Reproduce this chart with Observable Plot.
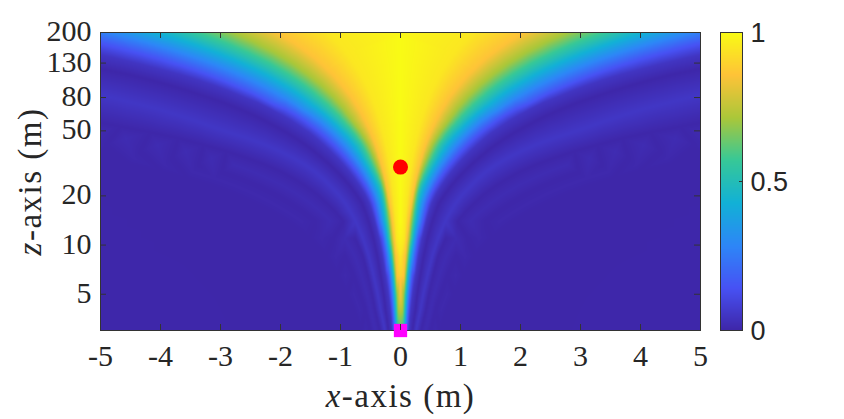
<!DOCTYPE html>
<html>
<head>
<meta charset="utf-8">
<script src="https://cdn.jsdelivr.net/npm/d3@7"></script>
<script src="https://cdn.jsdelivr.net/npm/@observablehq/plot@0.6"></script>
<style>
html,body{margin:0;padding:0;background:#fff;}
#wrap{position:relative;width:844px;height:419px;overflow:hidden;}
#wrap svg{position:absolute;top:0;}
</style>
</head>
<body>
<div id="wrap"></div>
<script>
// Parula-like colour map
const colorStops = [0, 1/7, 2/7, 3/7, 4/7, 5/7, 6/7, 1];
const colorValues = ["#3e26a8", "#4752f4", "#2d87f7", "#12b1d6", "#37c897", "#abc739", "#fec338", "#f9fb15"];

// Rows of the beam pattern: distance z (m)
const zRows = [3,4,5,6.5,8.5,11,14,16,18,20.5,23,25.5,28,31,34,37.5,41,45,49,53,58,63,68,74,80,87,94,102,110,119,128,139,150,162,174,187,200];
// Value on the axis x = 0 at each row
const centre = [.6,.75,.85,.9,.95,.98,1,1,1,1,1,1,1,1,1,1,1,1,1,1,1,1,1,1,1,1,1,1,1,1,1,1,1,1,1,1,.99];
const _ = null;
// |x| (m) where each level/ridge/null sits at each row
const c95 = [_,_,_,_,_,.066,.084,.096,.108,.123,.138,.153,.168,.186,.204,.225,.246,.27,.294,.318,.348,.378,.408,.444,.48,.522,.564,.612,.66,.714,.77,.834,.9,.972,1.04,1.12,1.2];
const c85 = [_,_,_,.06,.08,.11,.14,.162,.185,.21,.237,.262,.288,.319,.35,.385,.42,.462,.505,.546,.6,.649,.7,.762,.82,.896,.97,1.05,1.13,1.23,1.32,1.43,1.55,1.67,1.79,1.93,2.06];
const c70 = [_,.04,.055,.085,.115,.15,.18,.202,.225,.25,.28,.315,.35,.395,.44,.49,.54,.605,.67,.74,.82,.895,.96,1.05,1.13,1.235,1.33,1.45,1.56,1.69,1.81,1.97,2.12,2.3,2.46,2.655,2.83];
const c50 = [.06,.075,.09,.115,.15,.2,.24,.26,.28,.31,.35,.405,.46,.52,.58,.64,.7,.785,.87,.96,1.06,1.16,1.26,1.376,1.49,1.62,1.75,1.9,2.05,2.21,2.38,2.585,2.79,3.01,3.24,3.48,3.72];
const c30 = [.085,.105,.125,.155,.2,.25,.31,.34,.37,.42,.48,.54,.6,.675,.75,.835,.92,1.02,1.12,1.22,1.34,1.48,1.63,1.77,1.91,2.08,2.25,2.44,2.63,2.84,3.06,3.32,3.59,3.87,4.16,4.47,4.78];
const c15 = [.11,.135,.16,.195,.25,.3,.38,.415,.45,.51,.58,.655,.73,.82,.91,1.01,1.11,1.225,1.34,1.46,1.6,1.75,1.91,2.15,2.32,2.52,2.73,2.96,3.19,3.45,3.71,4.03,4.35,4.7,5.05,5.42,5.8];
const c05 = [.14,.17,.2,.25,.3,.36,.43,.475,.52,.595,.68,.765,.85,.95,1.05,1.165,1.28,1.405,1.53,1.67,1.83,2,2.17,2.37,2.6,2.84,3.08,3.36,3.65,4,4.33,4.74,5.15,5.6,6.05];
const null1 = [.2,.25,.28,.33,.385,.45,.53,.585,.64,.74,.84,.945,1.05,1.175,1.3,1.44,1.58,1.74,1.9,2.07,2.27,2.47,2.68,2.93,3.2,3.5,3.8,4.15,4.5,4.95,5.35,5.85];
const side1 = [.26,.33,.38,.45,.53,.63,.75,.835,.92,1.04,1.17,1.29,1.42,1.59,1.78,2.01,2.25,2.55,2.87,3.15,3.45,3.75,4.05,4.45,4.82,5.25,5.7];
const null2 = [.34,.42,.47,.54,.62,.75,.95,1.08,1.22,1.39,1.58,1.78,1.98,2.25,2.55,2.9,3.28,3.7,4.17,4.66,5.2,5.75];
const side2 = [.42,.5,.56,.65,.76,.93,1.17,1.33,1.5,1.72,1.95,2.2,2.45,2.78,3.15,3.58,4.05,4.58,5.15,5.7];
const null3 = [.5,.58,.67,.78,.92,1.12,1.42,1.62,1.83,2.09,2.37,2.66,2.97,3.36,3.8,4.33,4.9,5.52,6.2];
const side3 = [.58,.68,.78,.92,1.08,1.32,1.66,1.9,2.14,2.44,2.76,3.1,3.47,3.94,4.45,5.05,5.7];
const null4 = [.66,.78,.9,1.06,1.24,1.52,1.9,2.16,2.45,2.79,3.15,3.55,3.97,4.52,5.1,5.72,6.4];
const farEdge = [6,6,6,6,6,6,6,6,6,6,6,6,6,6,6];

const levels = [
  [c95,.95],[c85,.857],[c70,.7],[c50,.5],[c30,.3],[c15,.15],[c05,.05],
  [null1,.004],[side1,.055],[null2,.004],[side2,.02],[null3,.003],[side3,.01],[null4,.002],[farEdge,.004]
];

const xTicks = [-5,-4,-3,-2,-1,0,1,2,3,4,5];
const zTicks = [5,10,20,50,80,130,200];
const barTicks = [0,0.5,1];
const focusPoint = [{x:0,z:30}];
const sourcePoint = [{x:0,z:3}];

// Scattered samples
const samples = [];
zRows.forEach((z,i)=>{
  samples.push({x:0,z,v:centre[i]});
  for (const [xs,v] of levels) {
    if (xs[i]!=null) { samples.push({x:xs[i],z,v}); samples.push({x:-xs[i],z,v}); }
  }
});

const colorScale = {type:"linear",domain:colorStops,range:colorValues,clamp:true};
const dark = "#333";
const serif = "'Liberation Serif', serif";

const main = Plot.plot({
  width:844,height:419,
  marginLeft:100,marginRight:144,marginTop:32,marginBottom:89,
  style:{fontFamily:serif,fontSize:"30px",color:"#262626",background:"transparent",overflow:"visible"},
  x:{domain:[-5,5],label:null},
  y:{type:"log",domain:[3,200],label:null},
  color:colorScale,
  marks:[
    Plot.raster(samples,{x:"x",y:"z",fill:"v",interpolate:"barycentric",pixelSize:1}),
    Plot.frame({stroke:dark,strokeWidth:1}),
    Plot.dot(sourcePoint,{x:"x",y:"z",symbol:"square",r:7.5,fill:"#ff00ff",clip:false}),
    Plot.dot(focusPoint,{x:"x",y:"z",r:7.5,fill:"#ff0000"}),
    Plot.tickX(xTicks,{x:d=>d,insetTop:292,stroke:dark}),
    Plot.tickX(xTicks,{x:d=>d,insetBottom:292,stroke:dark}),
    Plot.tickY(zTicks,{y:d=>d,insetRight:594,stroke:dark}),
    Plot.tickY(zTicks,{y:d=>d,insetLeft:594,stroke:dark}),
    Plot.axisX({ticks:xTicks,tickSize:0,tickPadding:14,tickFormat:d=>String(d),label:"x-axis (m)",labelAnchor:"center",labelArrow:"none",labelOffset:76,fontSize:30}),
    Plot.axisY({ticks:[],tickSize:0,label:"z-axis (m)",labelAnchor:"center",labelArrow:"none",labelOffset:83,fontSize:30}),
    Plot.text(zTicks,{y:d=>d,text:d=>String(d),frameAnchor:"left",textAnchor:"end",dx:-9,dy:-1,fontSize:30})
  ]
});

const bar = Plot.plot({
  width:124,height:419,
  marginLeft:0,marginRight:102,marginTop:32,marginBottom:89,
  style:{fontFamily:"'Liberation Sans', sans-serif",fontSize:"27px",color:"#262626",background:"transparent",overflow:"visible"},
  x:{domain:[0,1],axis:null},
  y:{domain:[0,1],label:null},
  color:colorScale,
  marks:[
    Plot.raster({x1:0,x2:1,y1:0,y2:1,fill:(x,y)=>y,pixelSize:1}),
    Plot.frame({stroke:dark,strokeWidth:1}),
    Plot.tickY(barTicks,{y:d=>d,insetLeft:19,stroke:dark}),
    Plot.axisY({anchor:"right",ticks:barTicks,tickSize:0,tickPadding:8,tickFormat:d=>String(d),label:null,fontSize:27,dy:1})
  ]
});

// Italic axis variable, as in the math-mode labels
function styleLabel(svg, full, letter) {
  for (const t of svg.querySelectorAll("text")) {
    if (t.textContent.trim() === full) {
      t.textContent = "";
      const ns = "http://www.w3.org/2000/svg";
      const a = document.createElementNS(ns,"tspan");
      a.setAttribute("font-style","italic");
      a.textContent = letter;
      const b = document.createElementNS(ns,"tspan");
      b.textContent = full.slice(letter.length);
      t.append(a,b);
      t.setAttribute("font-size","33");
      t.style.letterSpacing = "1.5px";
      t.style.whiteSpace = "pre";
    }
  }
}
styleLabel(main,"x-axis (m)","x");
styleLabel(main,"z-axis (m)","z");

const wrap = document.getElementById("wrap");
main.style.left = "0px";
bar.style.left = "720px";
wrap.append(main,bar);
</script>
</body>
</html>
